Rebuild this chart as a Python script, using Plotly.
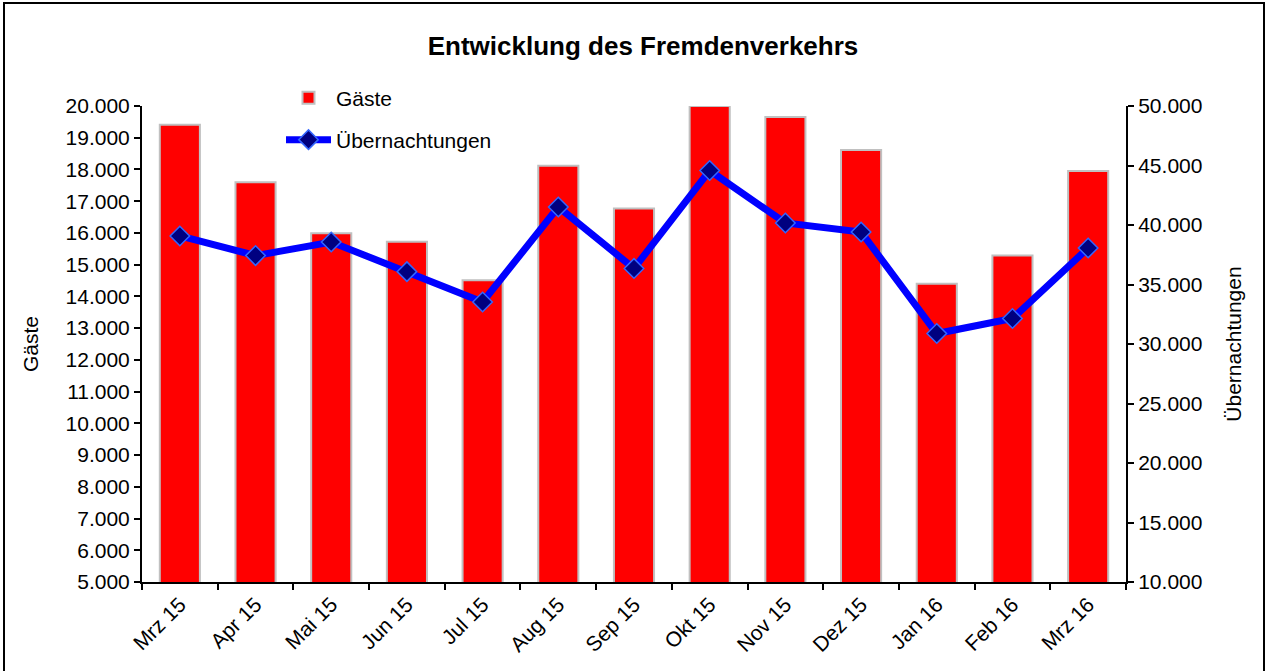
import plotly.graph_objects as go

# ---- data ----
months = ["Mrz 15", "Apr 15", "Mai 15", "Jun 15", "Jul 15", "Aug 15", "Sep 15",
          "Okt 15", "Nov 15", "Dez 15", "Jan 16", "Feb 16", "Mrz 16"]
gaeste = [19410, 17600, 15990, 15720, 14510, 18120, 16770,
          20000, 19650, 18610, 14400, 15290, 17950]
uebernachtungen = [39080, 37430, 38570, 36080, 33530, 41510, 36350,
                   44580, 40170, 39410, 30880, 32140, 38070]

left_ticks = list(range(5000, 20001, 1000))
right_ticks = list(range(10000, 50001, 5000))

W, H = 1267, 671
L, R, T, B = 142, 141, 106, 89
PW, PH = W - L - R, H - T - B

def px(x):
    return (x - L) / PW

def py(y):
    return (H - B - y) / PH

FONT = "Liberation Sans, Arial, sans-serif"
FS = 21

fig = go.Figure()
fig.add_trace(go.Bar(
    x=months, y=gaeste, name="Gäste", yaxis="y", xaxis="x",
    marker=dict(color="#FF0000", line=dict(color="#C0C0C0", width=2)),
    legend="legend", showlegend=True,
))
fig.add_trace(go.Scatter(
    x=months, y=uebernachtungen, name="Übernachtungen", yaxis="y2", xaxis="x",
    mode="lines+markers",
    line=dict(color="#0000FF", width=7),
    marker=dict(symbol="diamond", size=15, color="#000080",
                line=dict(color="#3366FF", width=1.5)),
    legend="legend2", showlegend=True,
))

axis_common = dict(showgrid=False, zeroline=False, linecolor="black", linewidth=2,
                   tickcolor="black", tickwidth=2,
                   tickfont=dict(family=FONT, size=FS, color="black"))

fig.update_layout(
    width=W, height=H,
    margin=dict(l=L, r=R, t=T, b=B),
    paper_bgcolor="white", plot_bgcolor="white",
    separators=",.",
    bargap=0.47,
    showlegend=True,
    font=dict(family=FONT, size=FS, color="black"),
    title=dict(text="<b>Entwicklung des Fremdenverkehrs</b>",
               font=dict(family=FONT, size=26, color="black"),
               xref="container", x=643 / W, xanchor="center",
               yref="container", y=1 - 46 / H, yanchor="middle"),
    xaxis=dict(**axis_common, type="category", range=[-0.5, 12.5],
               tickangle=-45, ticks="outside", ticklen=6, tickson="boundaries",
               showline=True, mirror=False),
    xaxis2=dict(overlaying="x", range=[-0.5, 12.5], showline=False,
                showgrid=False, zeroline=False, showticklabels=False,
                tickmode="array", tickvals=[i - 0.5 for i in range(14)],
                ticks="inside", ticklen=3, tickwidth=2, tickcolor="black"),
    yaxis=dict(**axis_common, range=[5000, 20000], tickvals=left_ticks,
               tickformat=",d", ticks="outside", ticklen=6, showline=True,
               title=dict(text="Gäste", font=dict(family=FONT, size=FS), standoff=21)),
    yaxis2=dict(**axis_common, overlaying="y", side="right", range=[10000, 50000],
                tickvals=right_ticks, tickformat=",d", ticks="outside", ticklen=6,
                showline=True,
                title=dict(text="Übernachtungen", font=dict(family=FONT, size=FS),
                           standoff=25)),
    yaxis3=dict(overlaying="y", range=[5000, 20000], tickvals=left_ticks,
                showticklabels=False, showgrid=False, zeroline=False, showline=False,
                ticks="inside", ticklen=4, tickwidth=2, tickcolor="black"),
    yaxis4=dict(overlaying="y", side="right", range=[10000, 50000], tickvals=right_ticks,
                showticklabels=False, showgrid=False, zeroline=False, showline=False,
                ticks="inside", ticklen=4, tickwidth=2, tickcolor="black"),
    legend=dict(x=px(281), y=py(98), xanchor="left", yanchor="middle",
                bgcolor="rgba(0,0,0,0)", font=dict(family=FONT, size=FS),
                itemwidth=45, visible=True),
    legend2=dict(x=px(281), y=py(140), xanchor="left", yanchor="middle",
                 bgcolor="rgba(0,0,0,0)", font=dict(family=FONT, size=FS),
                 itemwidth=45, visible=True),
    shapes=[dict(type="rect", xref="paper", yref="paper",
                 x0=px(4), x1=px(1264), y0=py(690), y1=py(3),
                 line=dict(color="black", width=2), fillcolor="rgba(0,0,0,0)",
                 layer="above")],
)

fig.write_html("out.html", config={"displayModeBar": False},
               post_script="document.body.style.margin='0px';document.body.style.overflow='hidden';")
